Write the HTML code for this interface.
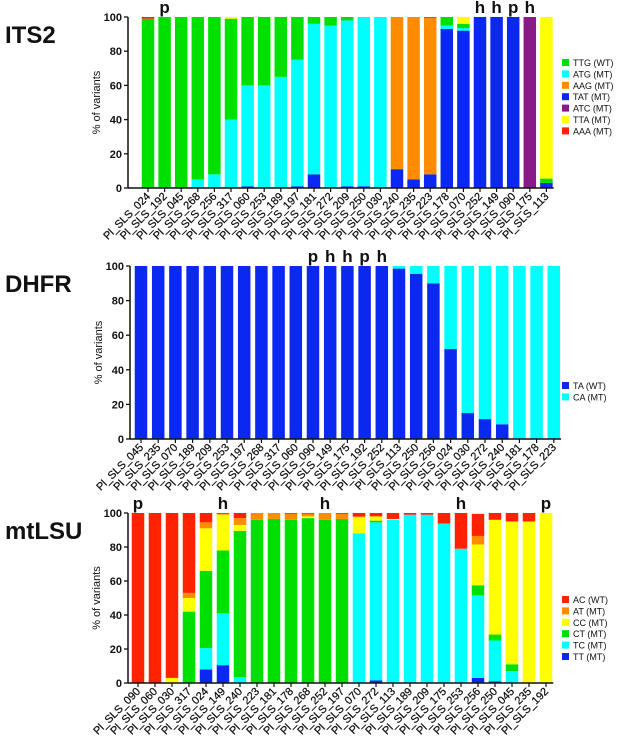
<!DOCTYPE html>
<html><head><meta charset="utf-8"><style>
html,body{margin:0;padding:0;background:#fff;}
svg{display:block;font-family:"Liberation Sans",Arial,sans-serif;}
</style></head><body>
<svg id="chart" width="630" height="741" viewBox="0 0 630 741" xmlns="http://www.w3.org/2000/svg"></svg>
<script>
// ---- ITS2 data ----
const its2Categories = ["024","192","045","268","256","317","060","253","189","197","181","272","209","250","030","240","235","223","178","070","252","149","090","175","113"];
const its2Series = ["TAT (MT)","ATG (MT)","AAG (MT)","ATC (MT)","TTG (WT)","TTA (MT)","AAA (MT)"];
const its2TAT = [0,0,0,0,0,0,1,0,0,1,8,0,1,1,0,11,5,8,93,92,100,100,100,0,3];
const its2ATG = [0,0,0,5,8,40,59,60,65,74,88,95,97,99,100,0,0,0,2,1.5,0,0,0,0,0];
const its2AAG = [0,0,0,0,0,0,0,0,0,0,0,0,0,0,0,89,95,91.5,0,0,0,0,0,0,0];
const its2ATC = [0,0,0,0,0,0,0,0,0,0,0,0,0,0,0,0,0,0,0,0,0,0,0,100,0];
const its2TTG = [99,100,100,95,92,59,40,40,35,25,4,5,2,0,0,0,0,0,5,2.5,0,0,0,0,2.5];
const its2TTA = [0,0,0,0,0,1,0,0,0,0,0,0,0,0,0,0,0,0,0,4,0,0,0,0,94.5];
const its2AAA = [1,0,0,0,0,0,0,0,0,0,0,0,0,0,0,0,0,0.5,0,0,0,0,0,0,0];
const its2Marks = ["","p","","","","","","","","","","","","","","","","","","","h","h","p","h",""];
const its2Legend = ["TTG (WT)","ATG (MT)","AAG (MT)","TAT (MT)","ATC (MT)","TTA (MT)","AAA (MT)"];
// ---- DHFR data ----
const dhfrCategories = ["045","235","070","189","209","253","197","268","317","060","090","149","175","192","252","113","250","256","024","030","272","240","181","178","223"];
const dhfrTA = [100,100,100,100,100,100,100,100,100,100,100,100,100,100,100,98.5,95.5,90,52,15,11.5,8.5,0,0,0];
const dhfrCA = [0,0,0,0,0,0,0,0,0,0,0,0,0,0,0,1.5,4.5,10,48,85,88.5,91.5,100,100,100];
const dhfrMarks = ["","","","","","","","","","","p","h","h","p","h","","","","","","","","","",""];
const dhfrLegend = ["TA (WT)","CA (MT)"];
// ---- mtLSU data ----
const lsuCategories = ["090","060","030","317","024","149","240","223","181","178","268","252","197","070","272","113","189","209","175","253","256","250","045","235","192"];
const lsuTT = [0,0,0,0,8,10.5,0,0,0,0,0,0,0,0,1.5,0,0,0,0,0,3,1,0,0,0];
const lsuTC = [0,0,0,0,12.5,30.5,3.5,0,0,0,0,0,0,88,93,96,99,99,93.5,79,48.5,24,7,0,0];
const lsuCT = [0,0,0,42,45.5,37,86,96,96.5,96,97,96,96.5,0,1,0,0,0,0.5,0,6,3.5,4,0,0];
const lsuCC = [0,0,3,8,25,21,3.5,0,0,0,1,0,0,9.5,2.5,0.5,0,0,0,0,24,67.5,84,95,100];
const lsuAT = [0,0,0,3,3.5,0.5,4,4,3.5,3.5,1.5,4,3,0.5,0,0,0,0,0,0,5,0,0,0,0];
const lsuAC = [100,100,97,47,5.5,0.5,3,0,0,0.5,0.5,0,0.5,2,2,3.5,1,1,6,21,13,4,5,5,0];
const lsuMarks = ["p","","","","","h","","","","","","h","","","","","","","","h","","","","","p"];
const lsuLegend = ["AC (WT)","AT (MT)","CC (MT)","CT (MT)","TC (MT)","TT (MT)"];
const yTicks = [0,20,40,60,80,100];

const C = {green:"#00e000",cyan:"#00ffff",orange:"#ff8c00",blue:"#0a28f0",purple:"#8a1a8a",yellow:"#ffff00",red:"#ff2200"};
const svg = document.getElementById('chart');
const NS = "http://www.w3.org/2000/svg";
function mk(tag, attrs, parent){
  const e = document.createElementNS(NS, tag);
  for (const k in attrs) e.setAttribute(k, attrs[k]);
  (parent||svg).appendChild(e); return e;
}
function panel(cfg){
  const g = mk('g', {});
  
  
  const yS = v => cfg.y0 - (cfg.y0 - cfg.y100) * v / 100;
  const xS = i => cfg.first + i * cfg.step;
  const t = mk('text', {x:5, y:cfg.y100 + 26, 'font-size':24, 'font-weight':'bold', fill:'#111'}, g);
  t.textContent = cfg.title;
  
  
  const yt = mk('text', {x:0, y:0, 'font-size':11, fill:'#111', 'text-anchor':'middle',
    transform:`translate(${cfg.axisX-28},${(cfg.y0+cfg.y100)/2}) rotate(-90)`}, g);
  yt.textContent = '% of variants';
  
  
  cfg.cats.forEach((c, i) => {
    let acc = 0;
    cfg.series.forEach(s => {
      const v = s.vals[i];
      if (v > 0) {
        const r = mk('rect', {x:xS(i)-cfg.bw/2, y:yS(acc+v), width:cfg.bw, height:yS(acc)-yS(acc+v), fill:s.color}, g);
        
        
      }
      acc += v;
    });
    mk('line', {x1:xS(i), x2:xS(i), y1:cfg.y0, y2:cfg.y0+4, stroke:'#111', 'stroke-width':1.2}, g);
    const lx = xS(i)+3, ly = cfg.y0+9;
    const lb = mk('text', {x:lx, y:ly, 'font-size':11, fill:'#111', stroke:'#111', 'stroke-width':0.25, 'text-anchor':'end',
      transform:`rotate(-45 ${lx} ${ly})`}, g);
    lb.textContent = 'Pl_SLS_' + c;
    
    
    if (cfg.marks[i]) {
      const m = mk('text', {x:xS(i), y:cfg.y100-4, 'font-size':17, 'font-weight':'bold', fill:'#111', 'text-anchor':'middle'}, g);
      m.textContent = cfg.marks[i];
      
      
    }
  });
  mk('line', {x1:cfg.axisX, x2:cfg.axisX, y1:cfg.y100, y2:cfg.y0, stroke:'#111', 'stroke-width':1.5}, g);
  mk('line', {x1:cfg.axisX, x2:xS(cfg.cats.length-1)+cfg.bw/2+1, y1:cfg.y0, y2:cfg.y0, stroke:'#111', 'stroke-width':1.5}, g);
  yTicks.forEach(v => {
    mk('line', {x1:cfg.axisX-4, x2:cfg.axisX, y1:yS(v), y2:yS(v), stroke:'#111', 'stroke-width':1.3}, g);
    const tl = mk('text', {x:cfg.axisX-6, y:yS(v)+4, 'font-size':11, 'font-weight':'bold', fill:'#111', 'text-anchor':'end'}, g);
    tl.textContent = v;
    
    
  });
  cfg.legend.forEach((name, k) => {
    const col = cfg.legendColors[k];
    const ly = cfg.legY + k * 11.4;
    mk('rect', {x:562, y:ly-7, width:7, height:7, fill:col}, g);
    const lt = mk('text', {x:573, y:ly, 'font-size':9, fill:'#111'}, g);
    lt.textContent = name;
    
    
  });
}
panel({id:'its2', title:'ITS2', cats:its2Categories, marks:its2Marks, y100:17, y0:188, axisX:128, first:148, step:16.6, bw:12.5,
  series:[{key:'tat',vals:its2TAT,color:C.blue},{key:'atg',vals:its2ATG,color:C.cyan},{key:'aag',vals:its2AAG,color:C.orange},
          {key:'atc',vals:its2ATC,color:C.purple},{key:'ttg',vals:its2TTG,color:C.green},{key:'tta',vals:its2TTA,color:C.yellow},{key:'aaa',vals:its2AAA,color:C.red}],
  legend:its2Legend, legendColors:[C.green,C.cyan,C.orange,C.blue,C.purple,C.yellow,C.red], legY:66});
panel({id:'dhfr', title:'DHFR', cats:dhfrCategories, marks:dhfrMarks, y100:266, y0:439, axisX:130, first:141, step:17.2, bw:12.5,
  series:[{key:'ta',vals:dhfrTA,color:C.blue},{key:'ca',vals:dhfrCA,color:C.cyan}],
  legend:dhfrLegend, legendColors:[C.blue,C.cyan], legY:389});
panel({id:'mtlsu', title:'mtLSU', cats:lsuCategories, marks:lsuMarks, y100:513, y0:683, axisX:128, first:138, step:17.0, bw:12.5,
  series:[{key:'tt',vals:lsuTT,color:C.blue},{key:'tc',vals:lsuTC,color:C.cyan},{key:'ct',vals:lsuCT,color:C.green},
          {key:'cc',vals:lsuCC,color:C.yellow},{key:'at',vals:lsuAT,color:C.orange},{key:'ac',vals:lsuAC,color:C.red}],
  legend:lsuLegend, legendColors:[C.red,C.orange,C.yellow,C.green,C.cyan,C.blue], legY:603});
</script>
</body></html>
